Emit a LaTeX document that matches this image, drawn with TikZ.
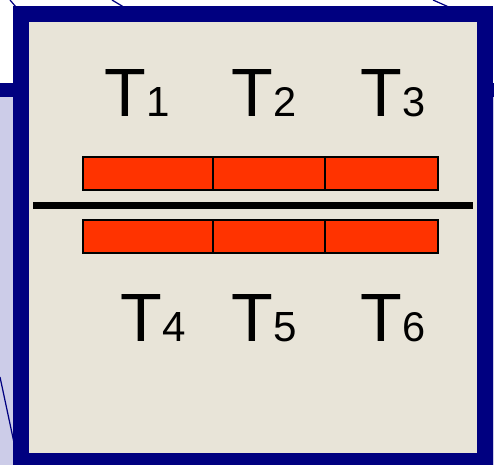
\documentclass[tikz,border=0pt]{standalone}
\usepackage{fontspec}
\setmainfont{Liberation Sans}
\usepackage{graphicx}

\newcommand{\bigT}[1]{\resizebox{!}{0.94cm}{T}\kern0.5pt\resizebox{!}{0.58cm}{#1}}

\begin{document}
\begin{tikzpicture}[x=0.02cm,y=-0.02cm]
% Colors define
\definecolor{myNavy}{HTML}{000080}
\definecolor{myBeige}{HTML}{E8E4D8}
\definecolor{myLavender}{HTML}{CCCCE8}
\definecolor{myRed}{HTML}{FF3300}

\tikzset{
  thinline/.style={myNavy,line width=0.7pt},
  barbox/.style={fill=myRed,draw=black,line width=0.9pt},
  tlabel/.style={inner sep=0pt,anchor=base west}
}

% Page size
\useasboundingbox[fill=white] (0,0) rectangle (494,465);

% Slide behind
\fill[myLavender] (0,97) rectangle (494,465);
\fill[myNavy] (0,83) rectangle (494,97);
\draw[thinline] (10,0) -- (22,14);
\draw[thinline] (112,0) -- (132,12);
\draw[thinline] (433,0) -- (460,12);
\draw[thinline] (0,377) -- (16,452);

% Big frame
\filldraw[fill=myBeige,draw=myNavy,line width=9.1pt] (21,14) rectangle (485,461);

% Red bars with the dividing lines
\foreach \y in {157,220} {
  \filldraw[barbox] (83,\y) rectangle (438,\y+33);
  \draw[line width=0.9pt] (213,\y) -- (213,\y+33);
  \draw[line width=0.9pt] (325,\y) -- (325,\y+33);
}

% Black line in the middle
\draw[line width=4pt] (33,205.5) -- (473,205.5);

% Labels
\foreach \n/\x/\y in {1/104/117,2/231/117,3/360/117,4/120/342,5/231/342,6/360/342}
  \node[tlabel] (T\n) at (\x,\y) {\bigT{\n}};
\end{tikzpicture}
\end{document}
